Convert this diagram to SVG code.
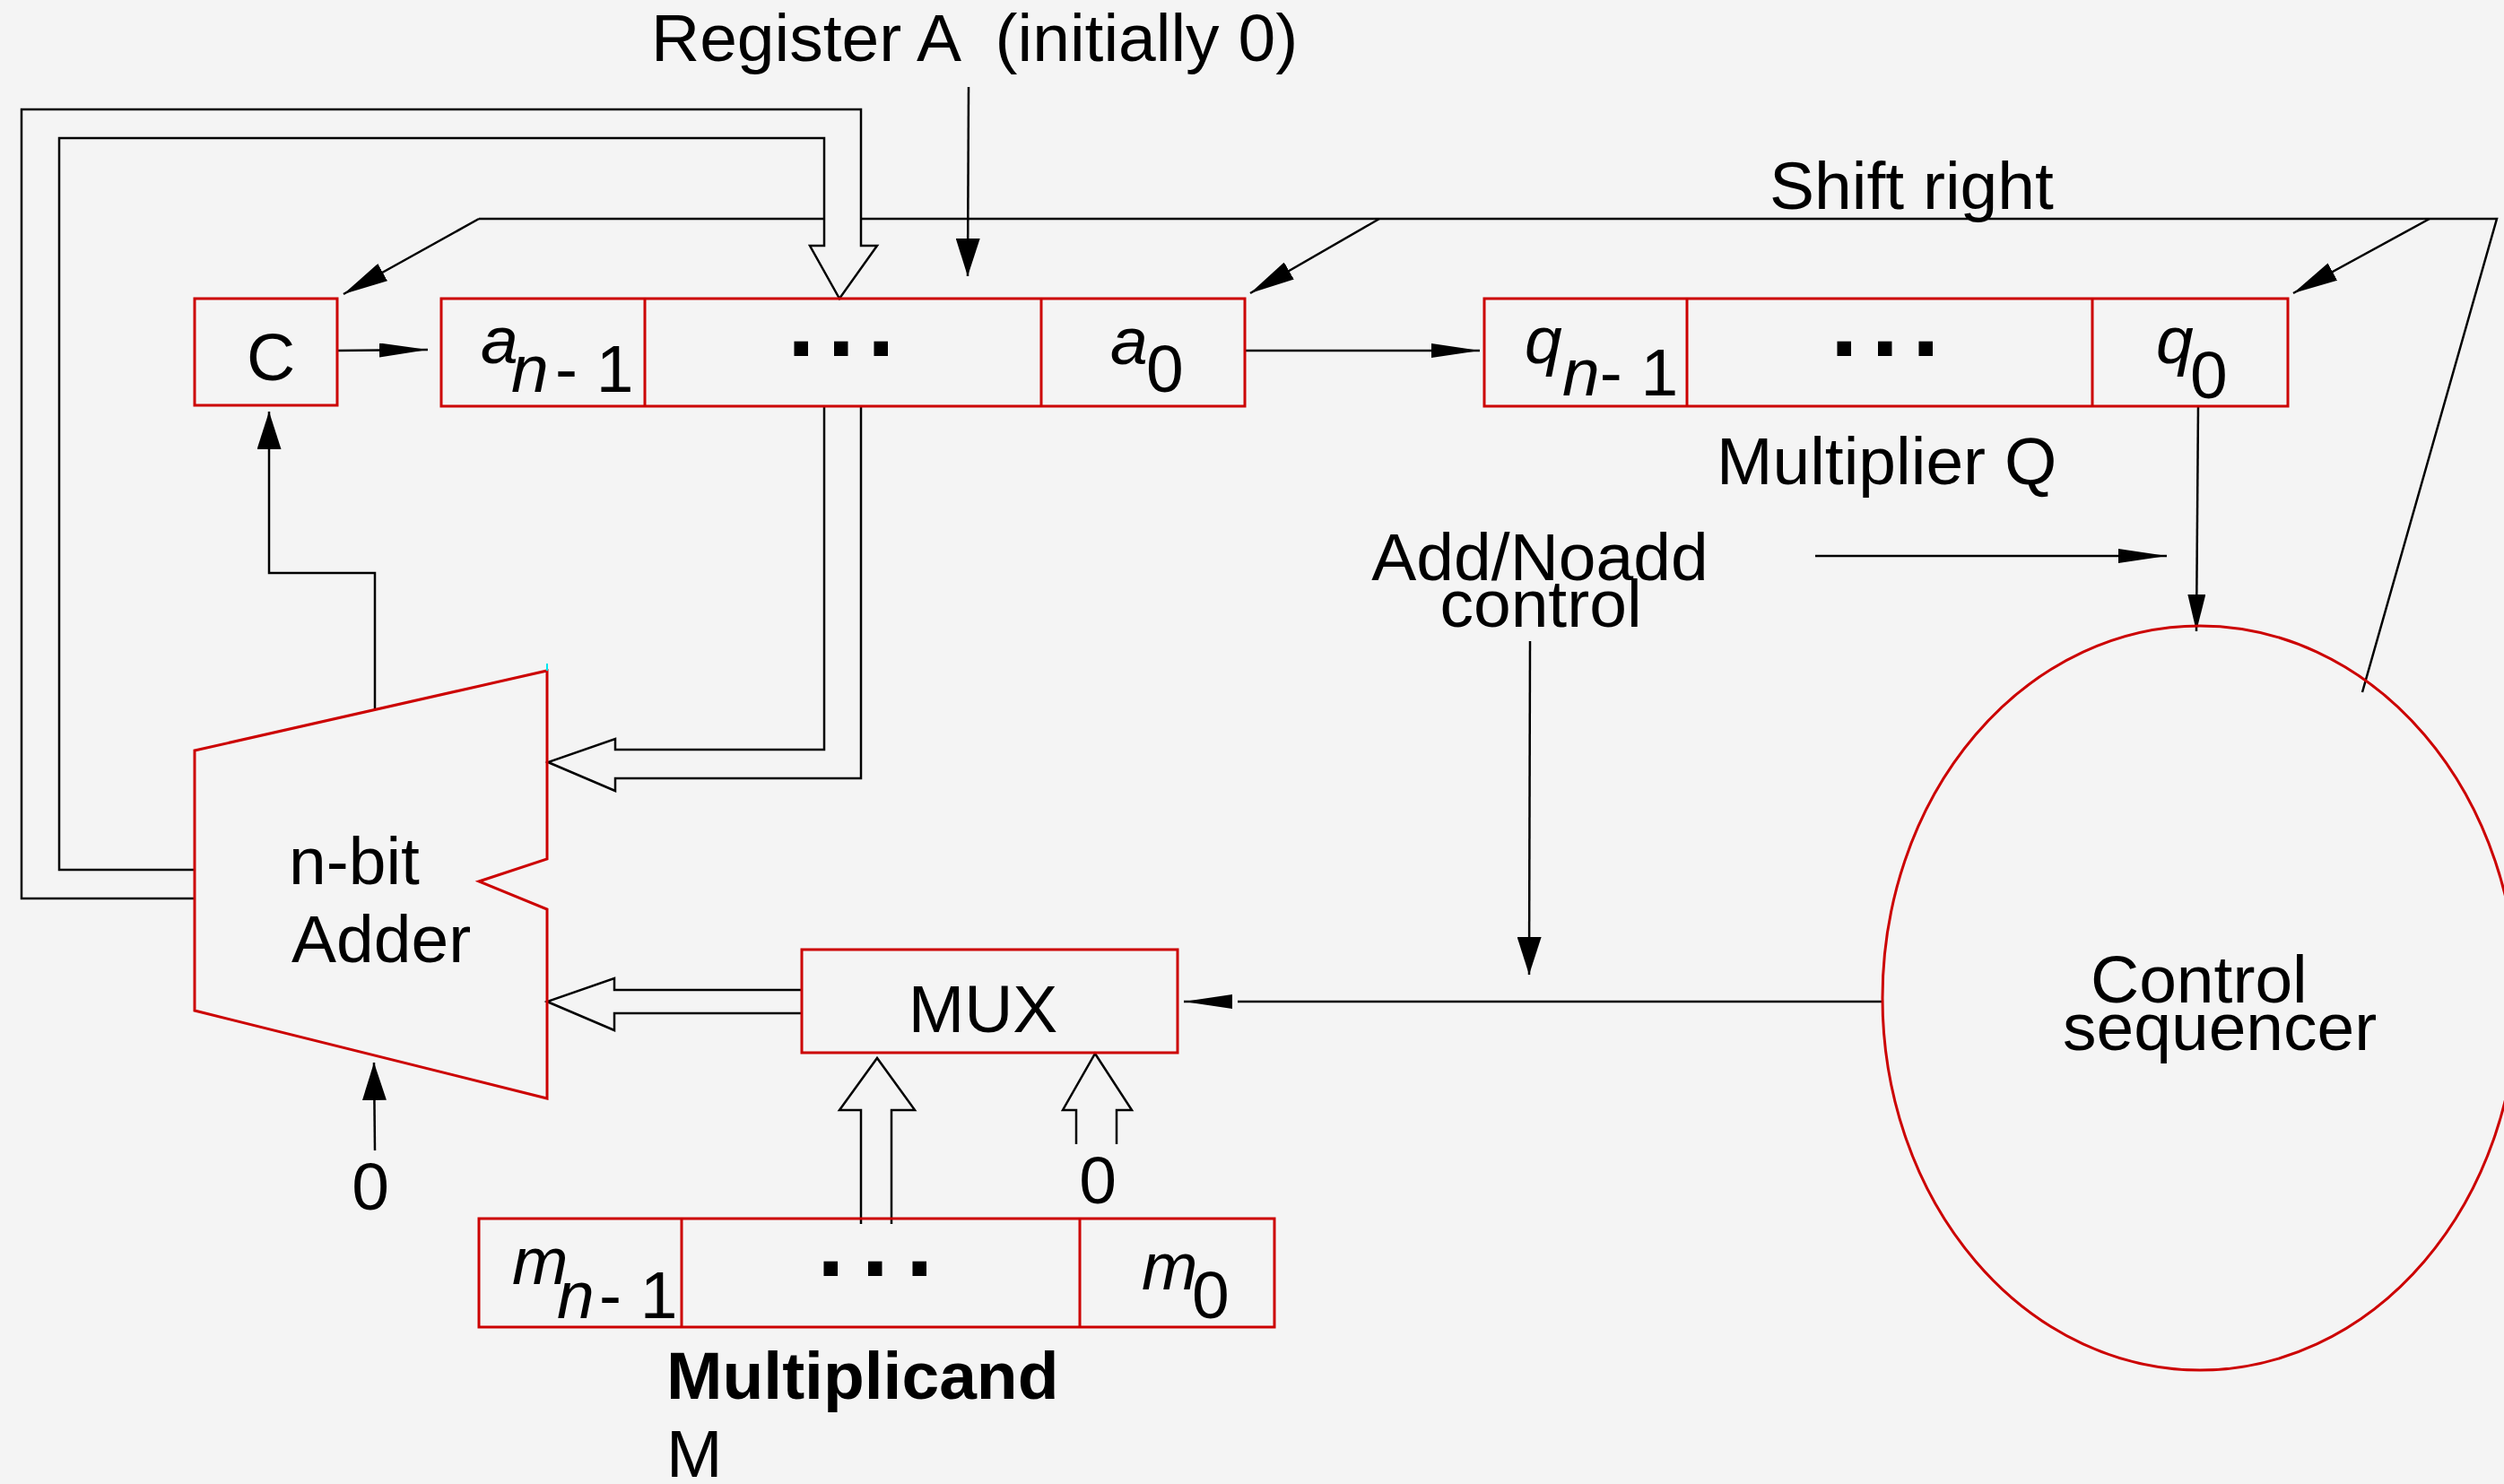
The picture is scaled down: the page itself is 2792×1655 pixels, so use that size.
<svg xmlns="http://www.w3.org/2000/svg" width="2792" height="1655" viewBox="0 0 2792 1655">
<style>
  .bg { fill: #f4f4f4; }
  .box { fill: none; stroke: #cc0000; stroke-width: 3; }
  .ln { fill: none; stroke: #000; stroke-width: 2.5; }
  .t { font-family: "Liberation Sans", Arial, sans-serif; font-size: 75px; fill: #000; }
  .it { font-style: italic; }
  .b { font-weight: bold; }
  .dots { font-family: "Liberation Sans", Arial, sans-serif; font-size: 110px; font-weight: bold; fill: #000; }
</style>
<defs>
  <marker id="ah" markerUnits="userSpaceOnUse" markerWidth="54" markerHeight="16" viewBox="0 0 54 16" refX="54" refY="8" orient="auto"><path d="M0,0 L54,8 L0,16 z" fill="#000"/></marker>
  <marker id="mv" markerUnits="userSpaceOnUse" markerWidth="42" markerHeight="27" viewBox="0 0 42 27" refX="42" refY="13.5" orient="auto"><path d="M0,0 L42,13.5 L0,27 z" fill="#000"/></marker>
  <marker id="mq" markerUnits="userSpaceOnUse" markerWidth="41" markerHeight="20" viewBox="0 0 41 20" refX="41" refY="10" orient="auto"><path d="M0,0 L41,10 L0,20 z" fill="#000"/></marker>
  <marker id="md" markerUnits="userSpaceOnUse" markerWidth="50" markerHeight="22" viewBox="0 0 50 22" refX="50" refY="11" orient="auto"><path d="M0,0 L50,11 L0,22 z" fill="#000"/></marker>
</defs>
<rect class="bg" x="0" y="0" width="2792" height="1655"/>

<g id="connectors">
  <path class="ln" d="M534,244 H919 M960,244 H2784 L2634,772"/>
  <path class="ln" d="M534,244 L383,328" marker-end="url(#md)"/>
  <path class="ln" d="M1538,244 L1394,327" marker-end="url(#md)"/>
  <path class="ln" d="M2709,244 L2557,327" marker-end="url(#md)"/>
  <path class="ln" d="M1080,97 L1079,308" marker-end="url(#mv)"/>
  <path class="ln" d="M376,391 L477,390" marker-end="url(#ah)"/>
  <path class="ln" d="M1388,391 L1650,391" marker-end="url(#ah)"/>
  <path class="ln" d="M418,791 V639 H300 V459" marker-end="url(#mv)"/>
  <path class="ln" d="M418,1283 L417,1185" marker-end="url(#mv)"/>
  <polyline class="ln" points="919,453 919,836 686,836 686,824 611,850 686,882 686,868 960,868 960,453"/>
  <polyline class="ln" points="217,970 66,970 66,154 919,154 919,274 903,274 936,333 978,274 960,274 960,122 24,122 24,1002 217,1002"/>
  <polyline class="ln" points="894,1104 685,1104 685,1091 610,1117 685,1149 685,1130 894,1130"/>
  <polyline class="ln" points="960,1365 960,1238 936,1238 978,1180 1020,1238 994,1238 994,1365"/>
  <polyline class="ln" points="1200,1276 1200,1238 1185,1238 1221,1175 1262,1238 1245,1238 1245,1276"/>
  <path class="ln" d="M1706,715 L1705,1087" marker-end="url(#mv)"/>
  <path class="ln" d="M2024,620 H2416" marker-end="url(#ah)"/>
  <path class="ln" d="M2451,453 L2449,704" marker-end="url(#mq)"/>
  <path class="ln" d="M2100,1117 H1380"/>
  <path class="ln" d="M1372,1117 H1320" marker-end="url(#ah)"/>
</g>

<g id="carry-C">
  <rect class="box" x="217" y="333" width="159" height="119"/>
  <text class="t" x="302" y="424" text-anchor="middle">C</text>
</g>

<g id="register-A">
  <rect class="box" x="492" y="333" width="896" height="120"/>
  <line class="box" x1="719" y1="333" x2="719" y2="453"/>
  <line class="box" x1="1161" y1="333" x2="1161" y2="453"/>
  <text class="t" x="536" y="405"><tspan class="it">a</tspan><tspan class="it" x="570" dy="32">n</tspan><tspan x="619">- 1</tspan></text>
  <text class="dots" x="878" y="397" letter-spacing="14">...</text>
  <text class="t" x="1238" y="406"><tspan class="it">a</tspan><tspan x="1278" dy="31">0</tspan></text>
</g>

<g id="register-Q">
  <rect class="box" x="1655" y="333" width="896" height="120"/>
  <line class="box" x1="1881" y1="333" x2="1881" y2="453"/>
  <line class="box" x1="2333" y1="333" x2="2333" y2="453"/>
  <text class="t" x="1700" y="405"><tspan class="it">q</tspan><tspan class="it" x="1742" dy="36">n</tspan><tspan>- 1</tspan></text>
  <text class="dots" x="2041" y="397" letter-spacing="15">...</text>
  <text class="t" x="2404" y="405"><tspan class="it">q</tspan><tspan x="2442" dy="39">0</tspan></text>
</g>

<g id="register-M">
  <rect class="box" x="534" y="1359" width="887" height="121"/>
  <line class="box" x1="760" y1="1359" x2="760" y2="1480"/>
  <line class="box" x1="1204" y1="1359" x2="1204" y2="1480"/>
  <text class="t" x="571" y="1432"><tspan class="it">m</tspan><tspan class="it" x="621" dy="38">n</tspan><tspan x="668">- 1</tspan></text>
  <text class="dots" x="911" y="1423" letter-spacing="19">...</text>
  <text class="t" x="1273" y="1438"><tspan class="it">m</tspan><tspan x="1329" dy="32">0</tspan></text>
</g>

<g id="mux">
  <rect class="box" x="894" y="1059" width="419" height="115"/>
  <text class="t" x="1096" y="1151" text-anchor="middle">MUX</text>
</g>

<g id="adder">
  <polygon class="box" points="217,837 610,748 610,958 534,983 610,1014 610,1225 217,1127"/>
  <line x1="610" y1="740" x2="610" y2="748" stroke="#00e5ee" stroke-width="2"/>
  <text class="t" x="322" y="986">n-bit</text>
  <text class="t" x="325" y="1073">Adder</text>
</g>

<g id="control-sequencer">
  <ellipse class="box" cx="2453" cy="1113" rx="354" ry="415"/>
  <text class="t" x="2331" y="1118">Control</text>
  <text class="t" x="2300" y="1171">sequencer</text>
</g>

<g id="labels">
  <text class="t" x="726" y="68" xml:space="preserve">Register A  (initially 0)</text>
  <text class="t" x="1973" y="233">Shift right</text>
  <text class="t" x="1914" y="540">Multiplier Q</text>
  <text class="t" x="1717" y="647" text-anchor="middle">Add/Noadd</text>
  <text class="t" x="1718" y="699" text-anchor="middle">control</text>
  <text class="t" x="413" y="1349" text-anchor="middle">0</text>
  <text class="t" x="1224" y="1342" text-anchor="middle">0</text>
  <text class="t b" x="743" y="1560">Multiplicand</text>
  <text class="t" x="743" y="1647">M</text>
</g>
</svg>
